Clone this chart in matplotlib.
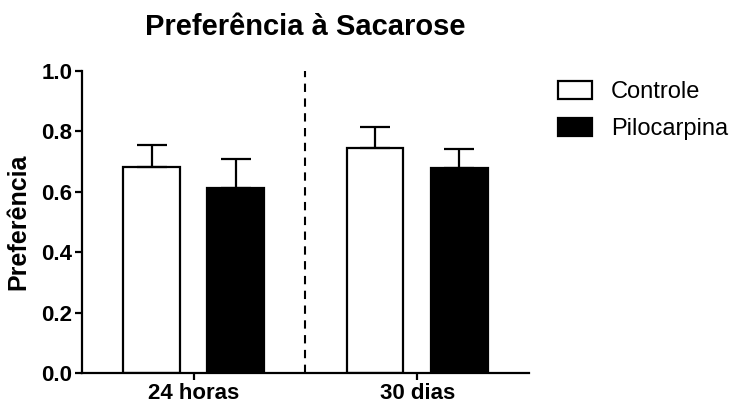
import numpy as np
import matplotlib.pyplot as plt
from matplotlib.patches import Patch

plt.rcParams['font.family'] = ['Liberation Sans', 'DejaVu Sans']

# Sucrose preference, mean and SEM per group
tempos = ['24 horas', '30 dias']
grupos = ['Controle', 'Pilocarpina']
controle = [0.682, 0.746]
controle_sem = [0.072, 0.067]
pilocarpina = [0.611, 0.680]
pilocarpina_sem = [0.098, 0.061]

fig = plt.figure(figsize=(7.34, 4.04), dpi=100)
ax = fig.add_axes([0.1117, 0.0767, 0.609, 0.748])

x = np.arange(len(tempos))
w = 0.253
off = 0.188
lw = 1.6

ax.bar(x - off, controle, w, color='white', edgecolor='black', linewidth=lw, zorder=2)
ax.bar(x + off, pilocarpina, w, color='black', edgecolor='black', linewidth=lw, zorder=2)

# upward-only error bars
for xs, m, s in [(x - off, controle, controle_sem), (x + off, pilocarpina, pilocarpina_sem)]:
    ax.errorbar(xs, m, yerr=[np.zeros(len(s)), s], fmt='none', ecolor='black',
                elinewidth=lw, capsize=10.5, capthick=lw, zorder=3)

ax.axvline(0.5, color='black', linestyle=(0, (4, 3.1)), linewidth=1.5, zorder=1)

ax.set_xlim(-0.5, 1.5)
ax.set_ylim(0, 1.0)
ax.set_yticks(np.arange(0, 1.01, 0.2))
ax.set_yticklabels([f'{v:.1f}' for v in np.arange(0, 1.01, 0.2)])
ax.set_xticks(x)
ax.set_xticklabels(tempos)

for sp in ['top', 'right']:
    ax.spines[sp].set_visible(False)
for sp in ['left', 'bottom']:
    ax.spines[sp].set_linewidth(lw)

ax.tick_params(axis='both', width=lw, length=5, labelsize=16, pad=2)
for lab in ax.get_xticklabels() + ax.get_yticklabels():
    lab.set_fontweight('bold')

ax.set_ylabel('Preferência', fontsize=18, fontweight='bold', labelpad=8)
fig.text(0.416, 0.933, 'Preferência à Sacarose', fontsize=21, fontweight='bold',
         ha='center', va='center')

handles = [Patch(facecolor='white', edgecolor='black', linewidth=lw, label=grupos[0]),
           Patch(facecolor='black', edgecolor='black', linewidth=lw, label=grupos[1])]
fig.legend(handles=handles, loc='upper left', bbox_to_anchor=(0.760, 0.800),
           frameon=False, fontsize=17, handlelength=1.45, handleheight=0.8,
           handletextpad=0.8, labelspacing=0.62, borderpad=0, borderaxespad=0)

fig.savefig('out.png', dpi=100)
